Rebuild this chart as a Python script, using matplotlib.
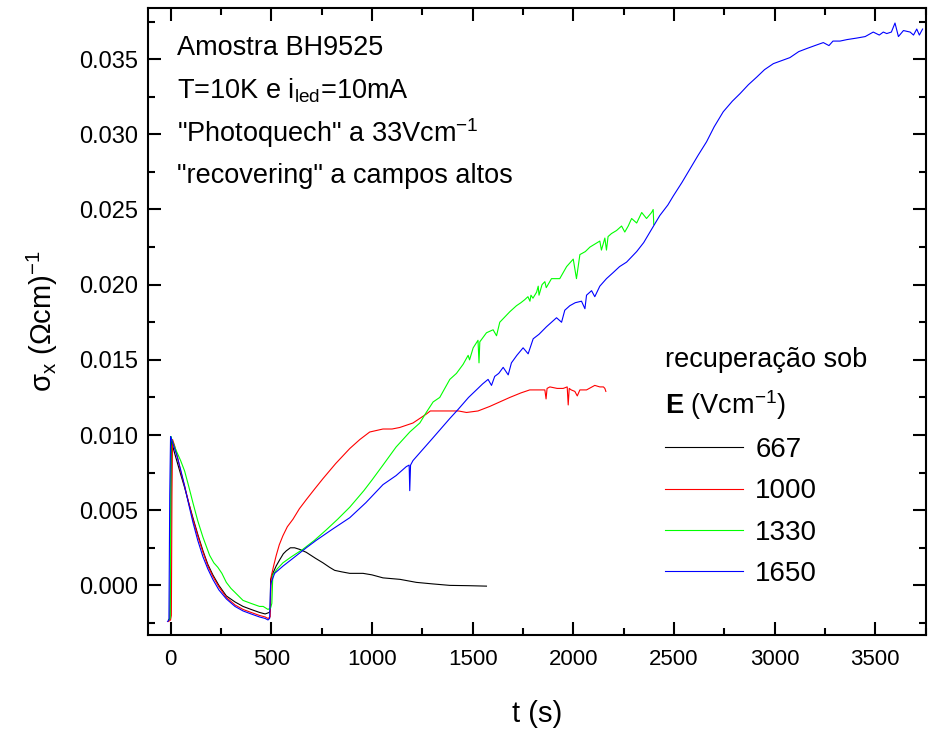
import matplotlib

matplotlib.use("Agg")
import matplotlib.pyplot as plt
from matplotlib.ticker import MultipleLocator, FormatStrFormatter

# curves: time (s) and sigma_x (Ohm cm)^-1
t_667 = [-10, -3, 0, 4, 10, 20, 35, 50, 70, 90, 111, 135, 161, 185, 210, 240, 277, 320, 360, 400,
         442, 470, 490, 495, 497, 508, 525, 542, 560, 575, 595, 616, 640, 674, 720, 757, 790, 815,
         850, 890, 956, 1000, 1055, 1140, 1221, 1300, 1387, 1480, 1569]
s_667 = [-0.0023, -0.0022, 0.0005, 0.0097, 0.0093, 0.0088, 0.0081, 0.0074, 0.0065, 0.0055, 0.0045,
         0.0034, 0.0023, 0.0014, 0.0007, 0.0000, -0.0007, -0.0011, -0.0014, -0.0016, -0.0018,
         -0.0019, -0.0018, -0.0017, 0.0004, 0.0008, 0.0013, 0.0017, 0.0021, 0.0023, 0.0025, 0.0025,
         0.0024, 0.0022, 0.0018, 0.0015, 0.0012, 0.0010, 0.0009, 0.0008, 0.0008, 0.0007, 0.0005,
         0.0004, 0.0002, 0.0001, 0.0000, -0.00002, -0.00005]

t_1000 = [-10, 0, 4, 7, 10, 20, 35, 50, 70, 90, 111, 135, 161, 185, 210, 240, 277, 320, 360, 400,
          442, 470, 484, 495, 500, 512, 525, 540, 558, 580, 608, 640, 674, 715, 757, 820, 890, 940,
          989, 1055, 1100, 1138, 1204, 1271, 1290, 1340, 1387, 1430, 1470, 1527, 1585, 1635, 1685,
          1740, 1784, 1830, 1859, 1865, 1870, 1884, 1920, 1950, 1970, 1975, 1980, 1990, 2008, 2020,
          2033, 2066, 2107, 2132, 2150, 2157, 2162]
s_1000 = [-0.0024, -0.0023, -0.0020, 0.0060, 0.0097, 0.0093, 0.0085, 0.0076, 0.0066, 0.0055,
          0.0044, 0.0033, 0.0022, 0.0013, 0.0006, -0.0001, -0.0008, -0.0013, -0.0016, -0.0018,
          -0.0020, -0.0021, -0.0022, -0.0021, 0.0006, 0.0013, 0.0020, 0.0027, 0.0033, 0.0039,
          0.0044, 0.0051, 0.0057, 0.0064, 0.0071, 0.0081, 0.0091, 0.0097, 0.0102, 0.0104, 0.0104,
          0.0105, 0.0108, 0.0114, 0.0116, 0.0116, 0.0116, 0.0116, 0.0115, 0.0116, 0.0119, 0.0122,
          0.0125, 0.0128, 0.0130, 0.0130, 0.0130, 0.0124, 0.0131, 0.0132, 0.0131, 0.0131, 0.0132,
          0.0120, 0.0131, 0.0130, 0.0129, 0.0126, 0.0130, 0.0130, 0.0133, 0.0132, 0.0132, 0.0131,
          0.0129]

t_1330 = [-8, -2, 2, 6, 15, 30, 50, 70, 90, 111, 135, 161, 194, 215, 235, 255, 277, 300, 330, 360,
          400, 442, 460, 484, 497, 503, 508, 530, 558, 600, 657, 715, 774, 830, 890, 960, 1000,
          1055, 1120, 1188, 1238, 1270, 1304, 1337, 1387, 1420, 1453, 1478, 1485, 1503, 1527, 1532,
          1536, 1569, 1602, 1619, 1635, 1685, 1718, 1740, 1759, 1775, 1785, 1790, 1800, 1818, 1826,
          1830, 1845, 1859, 1866, 1892, 1933, 1967, 2000, 2016, 2033, 2060, 2083, 2132, 2140, 2157,
          2165, 2173, 2190, 2215, 2240, 2256, 2273, 2290, 2315, 2340, 2364, 2389, 2397, 2400]
s_1330 = [-0.0023, -0.0022, 0.0099, 0.0097, 0.0094, 0.0089, 0.0083, 0.0076, 0.0066, 0.0055,
          0.0043, 0.0032, 0.0020, 0.0015, 0.0012, 0.0008, 0.0002, -0.0002, -0.0006, -0.0010,
          -0.0012, -0.0014, -0.0014, -0.0016, -0.0015, -0.0012, 0.0007, 0.0011, 0.0015, 0.0019,
          0.0024, 0.0030, 0.0037, 0.0044, 0.0052, 0.0063, 0.0070, 0.0080, 0.0092, 0.0102, 0.0108,
          0.0115, 0.0122, 0.0125, 0.0137, 0.0141, 0.0147, 0.0153, 0.0150, 0.0158, 0.0163, 0.0148,
          0.0162, 0.0168, 0.0170, 0.0166, 0.0175, 0.0182, 0.0186, 0.0188, 0.0190, 0.0192, 0.0189,
          0.0193, 0.0191, 0.0195, 0.0199, 0.0193, 0.0200, 0.0202, 0.0198, 0.0204, 0.0204, 0.0212,
          0.0217, 0.0204, 0.0220, 0.0222, 0.0225, 0.0229, 0.0223, 0.0231, 0.0223, 0.0232, 0.0234,
          0.0236, 0.0239, 0.0235, 0.0239, 0.0244, 0.0241, 0.0248, 0.0244, 0.0248, 0.0250, 0.0240]

t_1650 = [-15, -8, -4, 0, 5, 15, 30, 50, 70, 90, 111, 135, 161, 185, 210, 240, 277, 320, 360, 400,
          442, 470, 484, 492, 497, 500, 517, 560, 608, 674, 724, 800, 890, 970, 1055, 1120, 1171,
          1185, 1188, 1192, 1204, 1296, 1387, 1428, 1480, 1519, 1550, 1577, 1594, 1610, 1630, 1652,
          1677, 1693, 1720, 1751, 1776, 1801, 1830, 1867, 1917, 1942, 1958, 1983, 2010, 2041, 2058,
          2066, 2091, 2107, 2132, 2165, 2198, 2230, 2265, 2315, 2350, 2381, 2430, 2470, 2497, 2540,
          2580, 2620, 2662, 2700, 2745, 2790, 2828, 2870, 2911, 2950, 2994, 3035, 3076, 3120, 3159,
          3200, 3242, 3270, 3290, 3325, 3360, 3408, 3450, 3490, 3520, 3540, 3557, 3580, 3598, 3615,
          3640, 3673, 3690, 3706, 3719, 3735]
s_1650 = [-0.0024, -0.0023, 0.0060, 0.0099, 0.0097, 0.0093, 0.0087, 0.0077, 0.0066, 0.0054,
          0.0042, 0.0030, 0.0019, 0.0011, 0.0004, -0.0003, -0.0009, -0.0014, -0.0017, -0.0019,
          -0.0021, -0.0022, -0.0023, -0.0022, 0.0000, 0.0002, 0.0008, 0.0013, 0.0018, 0.0025,
          0.0030, 0.0037, 0.0045, 0.0055, 0.0067, 0.0073, 0.0079, 0.0080, 0.0063, 0.0080, 0.0083,
          0.0097, 0.0111, 0.0117, 0.0125, 0.0130, 0.0134, 0.0137, 0.0133, 0.0139, 0.0141, 0.0145,
          0.0140, 0.0148, 0.0153, 0.0158, 0.0154, 0.0164, 0.0167, 0.0172, 0.0178, 0.0175, 0.0183,
          0.0186, 0.0188, 0.0189, 0.0184, 0.0193, 0.0196, 0.0192, 0.0199, 0.0204, 0.0208, 0.0212,
          0.0215, 0.0222, 0.0228, 0.0235, 0.0246, 0.0253, 0.0259, 0.0268, 0.0277, 0.0286, 0.0295,
          0.0305, 0.0315, 0.0322, 0.0327, 0.0333, 0.0338, 0.0343, 0.0347, 0.0349, 0.0351, 0.0355,
          0.0357, 0.0359, 0.0361, 0.0359, 0.0362, 0.0362, 0.0363, 0.0364, 0.0365, 0.0368, 0.0366,
          0.0368, 0.0367, 0.0368, 0.0374, 0.0365, 0.0369, 0.0368, 0.0366, 0.0370, 0.0366, 0.0370]

labels = ["667", "1000", "1330", "1650"]
colors = ["#000000", "#ff0000", "#00ff00", "#0000ff"]

plt.rcParams.update({
    "font.family": ["Liberation Sans", "DejaVu Sans"],
    "mathtext.fontset": "custom",
    "mathtext.rm": "Liberation Sans",
    "mathtext.it": "Liberation Sans:italic",
    "mathtext.bf": "Liberation Sans:bold",
})

fig = plt.figure(figsize=(9.29, 7.35), dpi=100)
ax = fig.add_axes([148 / 929, 1 - 635 / 735, 778 / 929, 627 / 735])

series = [(t_667, s_667), (t_1000, s_1000), (t_1330, s_1330), (t_1650, s_1650)]
for (t, s), lab, c in zip(series, labels, colors):
    ax.plot(t, s, color=c, lw=0.8, label=lab)

ax.set_xlim(-112, 3752)
ax.set_ylim(-0.0033, 0.0384)
ax.xaxis.set_major_locator(MultipleLocator(500))
ax.xaxis.set_minor_locator(MultipleLocator(250))
ax.yaxis.set_major_locator(MultipleLocator(0.005))
ax.yaxis.set_minor_locator(MultipleLocator(0.0025))
ax.yaxis.set_major_formatter(FormatStrFormatter("%.3f"))
ax.tick_params(which="both", direction="in", top=True, right=True, width=1.5)
ax.tick_params(which="major", length=9.5, labelsize=16)
ax.tick_params(axis="y", which="major", labelsize=17, pad=7)
ax.tick_params(axis="x", which="major", pad=10)
ax.tick_params(which="minor", length=5)
for sp in ax.spines.values():
    sp.set_linewidth(1.5)

ax.set_xlabel("t (s)", fontsize=21, labelpad=22)
ax.set_ylabel(r"σ$_\mathregular{x}$ ($\mathregular{\Omega}$cm)$^\mathregular{-1}$", fontsize=21, labelpad=14)

notes = [
    "Amostra BH9525",
    r"T=10K e i$_\mathregular{led}$=10mA",
    r'"Photoquech" a 33Vcm$^\mathregular{-1}$',
    '"recovering" a campos altos',
]
for i, txt in enumerate(notes):
    ax.text(0.037, 0.936 - i * 0.068, txt, transform=ax.transAxes, fontsize=19.5, va="center")

leg = ax.legend(
    title="recuperação sob\n" + r"$\mathbf{E}$ (Vcm$^\mathregular{-1}$)",
    loc="upper left", bbox_to_anchor=(0.6645, 0.46), borderaxespad=0, borderpad=0,
    frameon=False, fontsize=20, title_fontsize=19.5, handlelength=2.8, handletextpad=0.45,
    labelspacing=0.55, alignment="left",
)
leg.get_title().set_linespacing(1.6)

fig.savefig("out.png", dpi=100)
